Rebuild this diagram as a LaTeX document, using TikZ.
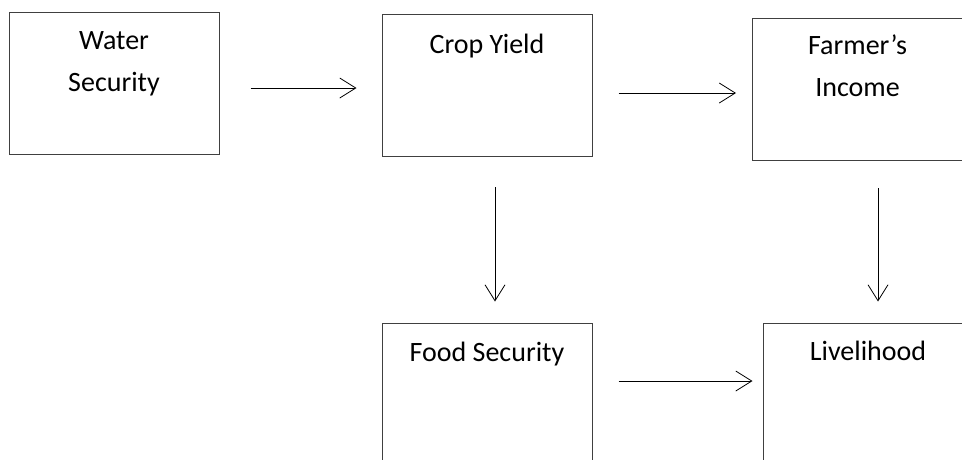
\documentclass[tikz,border=0pt]{standalone}
\usepackage{fontspec}
\setmainfont{Carlito}
\usetikzlibrary{arrows.meta}

\tikzset{
  box/.style={draw=black!75, line width=1pt, minimum width=210pt,
    minimum height=142pt, inner sep=0pt},
  boxtext/.style={anchor=base, align=center, inner sep=0pt,
    font=\fontsize{28}{42}\selectfont},
  arr/.style={-{Straight Barb[length=16pt,width=20pt]}, line width=0.8pt}
}

\begin{document}
\begin{tikzpicture}[x=1pt,y=-1pt]
  \useasboundingbox (0,0) rectangle (962,459) ;
  \clip (0,0) rectangle (962,459) ;

  % les cases
  \node[box] (ws) at (114,83.5) {} ;
  \node[box] (cy) at (487,85.5) {} ;
  \node[box] (fi) at (857.5,89.5) {} ;
  \node[box] (fs) at (487,394) {} ;
  \node[box] (lh) at (868,394) {} ;

  \node[boxtext] (wst) at ([yshift=-79pt]ws.north) {Water\\Security} ;
  \node[boxtext] (cyt) at ([yshift=-39pt]cy.north) {Crop Yield} ;
  \node[boxtext] (fit) at ([yshift=-78pt]fi.north) {Farmer’s\\Income} ;
  \node[boxtext] (fst) at ([yshift=-39pt]fs.north) {Food Security} ;
  \node[boxtext] (lht) at ([yshift=-38pt]lh.north) {Livelihood} ;

  % les flèches
  \draw[arr, shorten <=31pt, shorten >=25pt] ([yshift=-4.5pt]ws.east)
    -- ([yshift=-4.5pt]ws.east -| cy.west) ;
  \draw[arr, shorten <=26pt, shorten >=16pt] ([yshift=-7.5pt]cy.east)
    -- ([yshift=-7.5pt]cy.east -| fi.west) ;
  \draw[arr, shorten <=26pt, shorten >=10pt] ([yshift=13pt]fs.east)
    -- ([yshift=13pt]fs.east -| lh.west) ;
  \draw[arr, shorten <=30pt, shorten >=21pt] ([xshift=8pt]cy.south)
    -- ([xshift=8pt]cy.south |- fs.north) ;
  \draw[arr, shorten <=27pt, shorten >=21pt] ([xshift=20.5pt]fi.south)
    -- ([xshift=20.5pt]fi.south |- lh.north) ;
\end{tikzpicture}
\end{document}
